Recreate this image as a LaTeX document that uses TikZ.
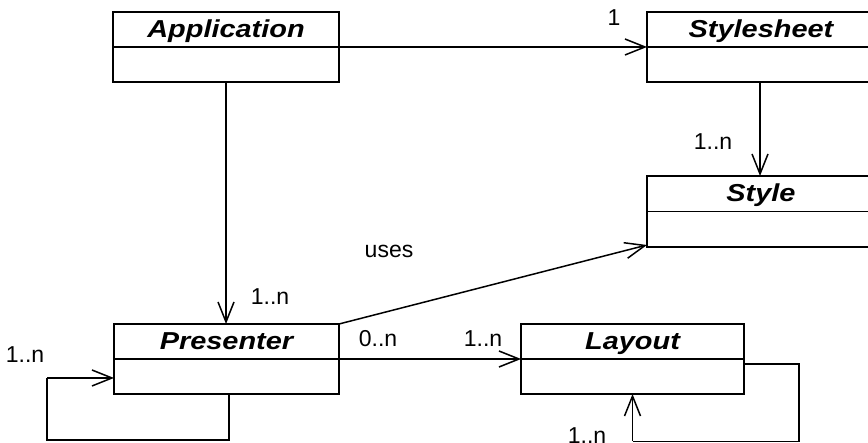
\documentclass[tikz,border=0pt]{standalone}
\usepackage{fontspec}
\setmainfont{Liberation Sans}
\newfontfamily\titlefont{Liberation Sans}[FakeStretch=1.18]
\usetikzlibrary{arrows.meta,calc}

\tikzset{
  classbox/.style={draw, line width=1.7pt, minimum width=#1, minimum height=70pt,
                   inner sep=0pt, outer sep=0pt},
  classtitle/.style={anchor=base, inner sep=0pt, font=\titlefont\bfseries\itshape\fontsize{24.5}{28}\selectfont},
  assoc/.style={line width=1.5pt, -{Straight Barb[length=20pt,width=16pt,line width=1.5pt]}},
  plain/.style={line width=1.5pt},
  mult/.style={anchor=base, inner sep=0pt, font=\fontsize{23}{27}\selectfont},
}

\begin{document}
\begin{tikzpicture}[x=1pt,y=-1pt]
  \useasboundingbox (0,0) rectangle (868,443);

  % class boxes
  \node[classbox=226pt] (app)    at (226,47)    {};
  \node[classbox=228pt] (sheet)  at (761,47)    {};
  \node[classbox=228pt, minimum height=71pt] (style) at (761,211.5) {};
  \node[classbox=225pt] (pres)   at (226.5,359) {};
  \node[classbox=223pt] (layout) at (632.5,359) {};

  % compartment dividers
  \foreach \b in {app,sheet,style,pres,layout}
    \draw[line width=1.7pt] (\b.west) -- (\b.east);

  % class names
  \node[classtitle] (appT)    at ($(app.north)+(0,26)$)    {Application};
  \node[classtitle] (sheetT)  at ($(sheet.north)+(0,26)$)  {Stylesheet};
  \node[classtitle] (styleT)  at ($(style.north)+(0,26)$)  {Style};
  \node[classtitle] (presT)   at ($(pres.north)+(0,26)$)   {Presenter};
  \node[classtitle] (layoutT) at ($(layout.north)+(0,26)$) {Layout};

  % associations
  \draw[assoc] (app.east) -- (sheet.west);
  \draw[assoc] ($(sheet.south)+(-1,0)$) -- ($(style.north)+(-1,0)$);
  \draw[assoc] (app.south) -- (app.south |- pres.north);
  \draw[assoc] (pres.north east) -- ($(style.south west)+(0,-2)$);
  \draw[assoc] (pres.east) -- (layout.west);

  % self associations
  \coordinate (pl1) at ($(pres.south)+(2.5,0)$);
  \coordinate (pl2) at (47,378);
  \draw[plain] (pl1) -- (pl1 |- 0,440) -| (pl2);
  \draw[assoc] (pl2) -- (pl2 -| pres.west);

  \coordinate (ll1) at ($(layout.east)+(0,5)$);
  \coordinate (ll2) at (799,441.5);
  \draw[plain] (ll1) -| (ll2) -- (ll2 -| layout.south);
  \draw[assoc] (ll2 -| layout.south) -- (layout.south);

  % multiplicities and role names
  \node[mult] (m1)  at (614,26)   {1};
  \node[mult] (m2)  at (713,150)  {1..n};
  \node[mult] (m3)  at (270,305)  {1..n};
  \node[mult] (m4)  at (389,258)  {uses};
  \node[mult] (m5)  at (378,347)  {0..n};
  \node[mult] (m6)  at (483,347)  {1..n};
  \node[mult] (m7)  at (25,363)   {1..n};
  \node[mult] (m8)  at (587,444)  {1..n};
\end{tikzpicture}
\end{document}
